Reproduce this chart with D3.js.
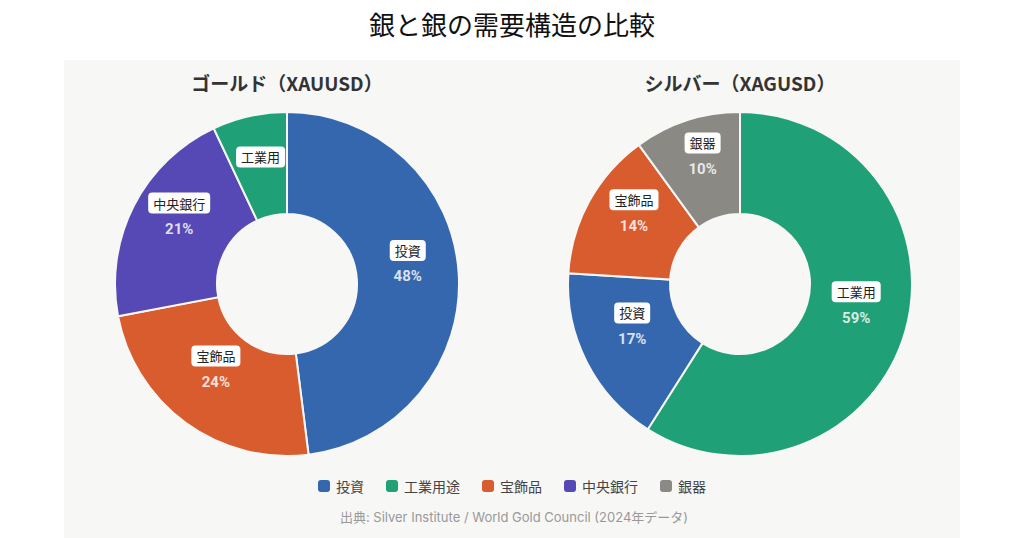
<!DOCTYPE html>
<html><head><meta charset="utf-8">
<script src="https://cdn.jsdelivr.net/npm/d3@7/dist/d3.min.js"></script>
<style>
html,body{margin:0;padding:0;background:#fff;}
svg{display:block;font-family:"Noto Sans CJK JP","Noto Sans",sans-serif;}
</style></head>
<body>
<svg id="chart" width="1024" height="538"></svg>
<script>
const title = "銀と銀の需要構造の比較";
const goldTitle = "ゴールド（XAUUSD）";
const silverTitle = "シルバー（XAGUSD）";
const goldCategories = ["投資", "宝飾品", "中央銀行", "工業用"];
const goldValues = [48, 24, 21, 7];
const silverCategories = ["工業用", "投資", "宝飾品", "銀器"];
const silverValues = [59, 17, 14, 10];
const legendCategories = ["投資", "工業用途", "宝飾品", "中央銀行", "銀器"];
const source = "出典: Silver Institute / World Gold Council (2024年データ)";

const colorMap = {
  "投資": "#3467ae", "工業用": "#1fa077", "工業用途": "#1fa077",
  "宝飾品": "#d95c2f", "中央銀行": "#5649b5", "銀器": "#8b8984"
};

const svg = d3.select("#chart");
svg.append("rect").attr("x",64).attr("y",60).attr("width",896).attr("height",478).attr("fill","#f7f7f5");
svg.append("text").attr("x",512).attr("y",35).attr("text-anchor","middle")
  .attr("font-size",26).attr("font-weight",400).attr("fill","#111").text(title);

function donut(cx, cy, cats, vals, sub) {
  const g = svg.append("g").attr("transform",`translate(${cx},${cy})`);
  svg.append("text").attr("x",cx).attr("y",91).attr("text-anchor","middle")
    .attr("font-size",19).attr("font-weight",700).attr("fill","#333").text(sub);
  const data = cats.map((c,i)=>({cat:c, value:vals[i]}));
  const pie = d3.pie().value(d=>d.value).sort(null);
  const outerR = 172, innerR = 70;
  const arc = d3.arc().innerRadius(innerR).outerRadius(outerR);
  const labelArc = d3.arc().innerRadius(121).outerRadius(121);
  const arcs = pie(data);
  g.selectAll("path").data(arcs).join("path")
    .attr("d", arc).attr("fill", d=>colorMap[d.data.cat])
    .attr("stroke","#f7f7f5").attr("stroke-width",2);
  arcs.forEach(a=>{
    const [x,y] = labelArc.centroid(a);
    const showPct = a.data.value >= 10;
    const by = showPct ? y-26 : y-9;
    const lg = g.append("g");
    const t = lg.append("text").attr("x",x).attr("y",by).attr("text-anchor","middle")
      .attr("dominant-baseline","central").attr("font-size",13).attr("fill","#222").text(a.data.cat);
    const bb = t.node().getBBox();
    lg.insert("rect","text").attr("x",bb.x-5).attr("y",by-10.5).attr("width",bb.width+10)
      .attr("height",21).attr("rx",4).attr("fill","#fff");
    if (showPct) {
      g.append("text").attr("x",x).attr("y",y).attr("text-anchor","middle")
        .attr("dominant-baseline","central").attr("font-size",15).attr("font-weight",700)
        .attr("font-family","Roboto, 'Noto Sans', sans-serif")
        .attr("fill","#fff").attr("fill-opacity",0.82).text(a.data.value + "%");
    }
  });
}
donut(287, 284, goldCategories, goldValues, goldTitle);
donut(740, 284, silverCategories, silverValues, silverTitle);

// legend
const leg = svg.append("g");
let lx = 0;
legendCategories.forEach(c=>{
  const it = leg.append("g").attr("transform",`translate(${lx},0)`);
  it.append("rect").attr("x",0).attr("y",-6).attr("width",12).attr("height",12).attr("rx",3).attr("fill",colorMap[c]);
  const t = it.append("text").attr("x",18).attr("y",0).attr("dominant-baseline","central")
    .attr("font-size",14).attr("fill","#444").text(c);
  const w = 18 + t.node().getComputedTextLength();
  lx += w + 22;
});
const totalW = lx - 22;
leg.attr("transform",`translate(${512-totalW/2},486)`);

svg.append("text").attr("x",514).attr("y",517).attr("text-anchor","middle").attr("dominant-baseline","central")
  .attr("font-size",13).attr("fill","#999").attr("font-family","Inter, 'Noto Sans CJK JP', sans-serif").text(source);
</script>
</body></html>
